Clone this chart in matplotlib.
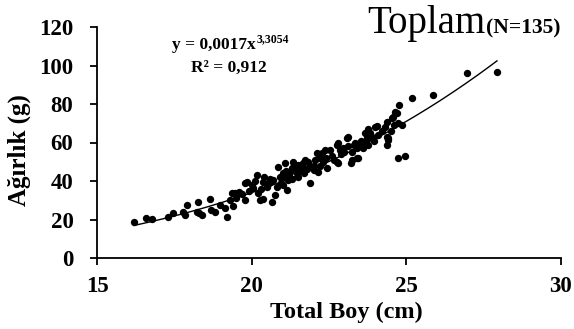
import numpy as np
import matplotlib
matplotlib.use("Agg")
import matplotlib.pyplot as plt

plt.rcParams['font.family'] = ['Liberation Serif', 'DejaVu Serif']

# Data (Total length cm, weight g)
length_cm = [
    16.2, 16.6, 16.77, 17.3, 17.47, 17.79, 17.85, 17.9, 18.22, 18.28, 18.3, 18.39,
    18.65, 18.68, 18.8, 18.98, 19.14, 19.2, 19.3, 19.35, 19.4, 19.46,
    19.6, 19.78, 19.78, 19.84, 20.05, 20.16, 20.2, 20.27, 20.38, 20.38, 20.49,
    20.65, 20.7, 20.76, 20.81, 20.86, 19.5, 19.7, 19.9, 20.0, 20.1, 20.3, 20.4,
    20.55, 20.6, 20.9, 20.95,
    21.02, 21.08, 21.13, 21.18, 21.24, 21.35, 21.4, 21.51, 21.62, 21.67, 21.89,
    22.0, 21.72, 21.05, 21.1, 21.2, 21.3, 21.3, 21.45, 21.5, 21.55, 21.7, 21.8,
    21.83, 21.9, 21.0,
    22.05, 22.1, 22.15, 22.26, 22.37, 22.53, 22.75, 22.78, 22.8, 22.86, 22.75,
    22.2, 22.3, 22.4, 22.45, 22.6, 22.65, 22.9, 22.95, 22.0, 22.2,
    23.07, 23.13, 23.2, 23.23, 23.3, 23.4, 23.4, 23.45, 23.66, 23.72, 23.76,
    23.76, 23.83, 23.99, 24.04, 23.0, 23.1, 23.25, 23.35, 23.5, 23.55, 23.6,
    23.7, 23.9, 23.95,
    24.37, 24.4, 24.37, 24.37, 24.42, 24.53, 24.57, 24.63, 24.69, 24.74, 24.76,
    24.85, 24.73, 24.96, 24.2, 24.3, 24.5, 24.6, 24.1,
    25.17, 25.87, 26.96, 27.93,
]
weight_g = [
    18.9, 20.6, 20.1, 21.5, 23.5, 24.1, 22.3, 27.5, 24.1, 29.2, 23.2, 22.3,
    30.5, 24.9, 24.1, 27.5, 25.8, 21.5, 30.1, 33.6, 27.2, 33.6,
    34.4, 38.8, 30.1, 39.6, 36.2, 43.1, 33.6, 30.1, 30.5, 39.6, 37.0,
    29.2, 40.5, 32.7, 37.0, 47.4, 31.0, 33.0, 35.0, 38.0, 40.0, 36.0, 42.0,
    39.0, 41.0, 42.0, 39.0,
    44.0, 49.2, 35.3, 40.5, 44.8, 50.0, 46.6, 48.3, 47.4, 49.2, 38.8,
    45.7, 50.9, 42.0, 45.0, 43.0, 41.0, 47.0, 44.0, 42.0, 45.0, 44.0, 46.0,
    50.0, 48.0, 38.0,
    50.9, 54.4, 44.8, 54.4, 56.1, 56.1, 58.7, 49.2, 59.6, 56.1, 50.0,
    48.0, 50.0, 52.0, 47.0, 53.0, 51.0, 54.0, 57.0, 48.0, 52.0,
    62.3, 63.0, 49.4, 50.9, 58.7, 57.0, 51.9, 51.8, 64.9, 62.2, 67.0,
    58.7, 64.8, 68.2, 68.6, 55.0, 58.0, 55.0, 60.0, 59.0, 61.0, 57.0,
    60.0, 63.0, 61.0,
    63.0, 61.3, 58.7, 70.8, 62.2, 72.6, 73.4, 76.0, 75.5, 70.0, 79.5,
    69.1, 52.1, 53.1, 66.0, 68.0, 66.0, 69.0, 64.0,
    83.0, 84.5, 95.9, 96.5,
]

coef_a = 0.0017
coef_b = 3.3054
xticks = [15, 20, 25, 30]
yticks = [0, 20, 40, 60, 80, 100, 120]

W, H = 574, 329
fig = plt.figure(figsize=(W/100, H/100), dpi=100)
ax = fig.add_axes([97/W, (H-258)/H, (561-97)/W, (258-27)/H])

ax.scatter(length_cm, weight_g, s=28, color='black', zorder=3, linewidths=0)
xf = np.linspace(min(length_cm), max(length_cm), 200)
ax.plot(xf, coef_a * xf ** coef_b, color='black', lw=1.0, zorder=2)

ax.set_xlim(15, 30)
ax.set_ylim(0, 120)
ax.set_xticks(xticks)
ax.set_yticks(yticks)
for s in ['top', 'right']:
    ax.spines[s].set_visible(False)
for s in ['left', 'bottom']:
    ax.spines[s].set_linewidth(1.3)
ax.tick_params(direction='out', length=5, width=1.3, labelsize=16.5)
ax.tick_params(axis='y', pad=12)
ax.tick_params(axis='x', pad=8)
for lab in ax.get_xticklabels() + ax.get_yticklabels():
    lab.set_fontweight('bold')

fig.text(346/W, 1 - 318/H, 'Total Boy (cm)', fontsize=17.5, fontweight='bold',
         ha='center', va='baseline')
fig.text(19/W, 1 - 150/H, 'Ağırlık (g)', fontsize=18, fontweight='bold',
         ha='center', va='center', rotation=90)

# equation with superscript
eq = fig.text(172/W, 1 - 49/H, 'y = 0,0017x', fontsize=12.5, fontweight='bold',
              ha='left', va='baseline')
fig.canvas.draw()
bb = eq.get_window_extent()
fig.text(bb.x1/W + 0.5/W, 1 - 42/H, '3,3054', fontsize=8.5, fontweight='bold',
         ha='left', va='baseline')
fig.text(229/W, 1 - 72/H, 'R² = 0,912', fontsize=12.5, fontweight='bold',
         ha='center', va='baseline')

tt = fig.text(367/W, 1 - 33/H, 'Toplam', fontsize=28, ha='left', va='baseline')
fig.canvas.draw()
tb = tt.get_window_extent()
fig.text(tb.x1/W + 1/W, 1 - 33/H, '(N=135)', fontsize=15.5, fontweight='bold',
         ha='left', va='baseline')

fig.savefig('out.png', dpi=100)
